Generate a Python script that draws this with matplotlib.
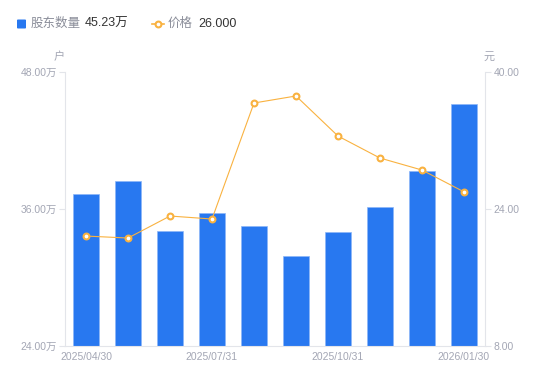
import matplotlib
matplotlib.use("Agg")
import matplotlib.pyplot as plt
import numpy as np

plt.rcParams['font.family'] = ['Liberation Sans', 'Noto Sans CJK SC', 'DejaVu Sans']

dates = ["2025/04/30", "2025/05/30", "2025/06/30", "2025/07/31", "2025/08/29",
         "2025/09/30", "2025/10/31", "2025/11/28", "2025/12/31", "2026/01/30"]
holders = [37.32, 38.46, 34.08, 35.65, 34.51, 31.89, 34.00, 36.18, 39.33, 45.23]  # 万户
price = [20.84, 20.61, 23.18, 22.83, 36.38, 37.20, 32.52, 29.95, 28.55, 26.00]
left_ticks = [24, 36, 48]
right_ticks = [8, 24, 40]
shown_idx = [0, 3, 6, 9]

BLUE = "#2878F0"
ORANGE = "#F9B240"
GRAY = "#A3A6B4"
AXIS = "#E3E5EA"

fig = plt.figure(figsize=(5.5, 3.81), dpi=100)
ax = fig.add_axes([65/550, 35/381, 420/550, 274/381])
x = np.arange(len(dates))
ax.bar(x, holders, width=0.6, color=BLUE, edgecolor="#8DB6F7", linewidth=0.5, zorder=2)
ax.set_xlim(-0.5, len(dates) - 0.5)
ax.set_ylim(left_ticks[0], left_ticks[-1])
ax.set_yticks(left_ticks)
ax.set_yticklabels([f"{v:.2f}万" for v in left_ticks])
ax.set_xticks([x[i] for i in shown_idx])
ax.set_xticklabels([dates[i] for i in shown_idx])
ax.tick_params(axis='x', length=0, colors=GRAY, labelsize=7.5, pad=4)
ax.tick_params(axis='y', length=4, color=AXIS, labelcolor=GRAY, labelsize=7.5, pad=2)

ax2 = ax.twinx()
ax2.plot(x, price, color=ORANGE, linewidth=0.8, marker='o', markersize=4.2,
         markerfacecolor='white', markeredgecolor=ORANGE, markeredgewidth=1.5, zorder=3)
ax2.set_ylim(right_ticks[0], right_ticks[-1])
ax2.set_yticks(right_ticks)
ax2.set_yticklabels([f"{v:.2f}" for v in right_ticks])
ax2.tick_params(axis='y', length=4, color=AXIS, labelcolor=GRAY, labelsize=7.5, pad=2)

for a in (ax, ax2):
    for s in a.spines.values():
        s.set_visible(False)
ax.spines['left'].set_visible(True)
ax.spines['left'].set_color(AXIS)
ax.spines['bottom'].set_visible(True)
ax.spines['bottom'].set_color(AXIS)
ax2.spines['right'].set_visible(True)
ax2.spines['right'].set_color(AXIS)

fig.text(59/550, 1 - 57/381, "户", color=GRAY, fontsize=8, ha='center', va='center')
fig.text(489/550, 1 - 57/381, "元", color=GRAY, fontsize=8, ha='center', va='center')

# legend
ly = 1 - 24/381
fig.patches.append(matplotlib.patches.FancyBboxPatch((17/550, ly - 4.5/381), 9/550, 9/381,
    boxstyle="round,pad=0,rounding_size=0.002", transform=fig.transFigure,
    facecolor=BLUE, edgecolor='none'))
fig.text(31/550, ly, "股东数量", color="#8A8D99", fontsize=9, va='center', ha='left')
fig.text(85/550, ly, f"{holders[-1]:.2f}万", color="#333333", fontsize=9, va='center', ha='left')
fig.add_artist(matplotlib.lines.Line2D([152/550, 164/550], [ly, ly], color=ORANGE, lw=1.2,
    transform=fig.transFigure))
fig.add_artist(matplotlib.lines.Line2D([158/550], [ly], color=ORANGE, marker='o', markersize=4.2,
    markerfacecolor='white', markeredgewidth=1.5, transform=fig.transFigure))
fig.text(168/550, ly, "价格", color="#8A8D99", fontsize=9, va='center', ha='left')
fig.text(198/550, ly, f"{price[-1]:.3f}", color="#333333", fontsize=9, va='center', ha='left')

fig.savefig("out.png", dpi=100)
